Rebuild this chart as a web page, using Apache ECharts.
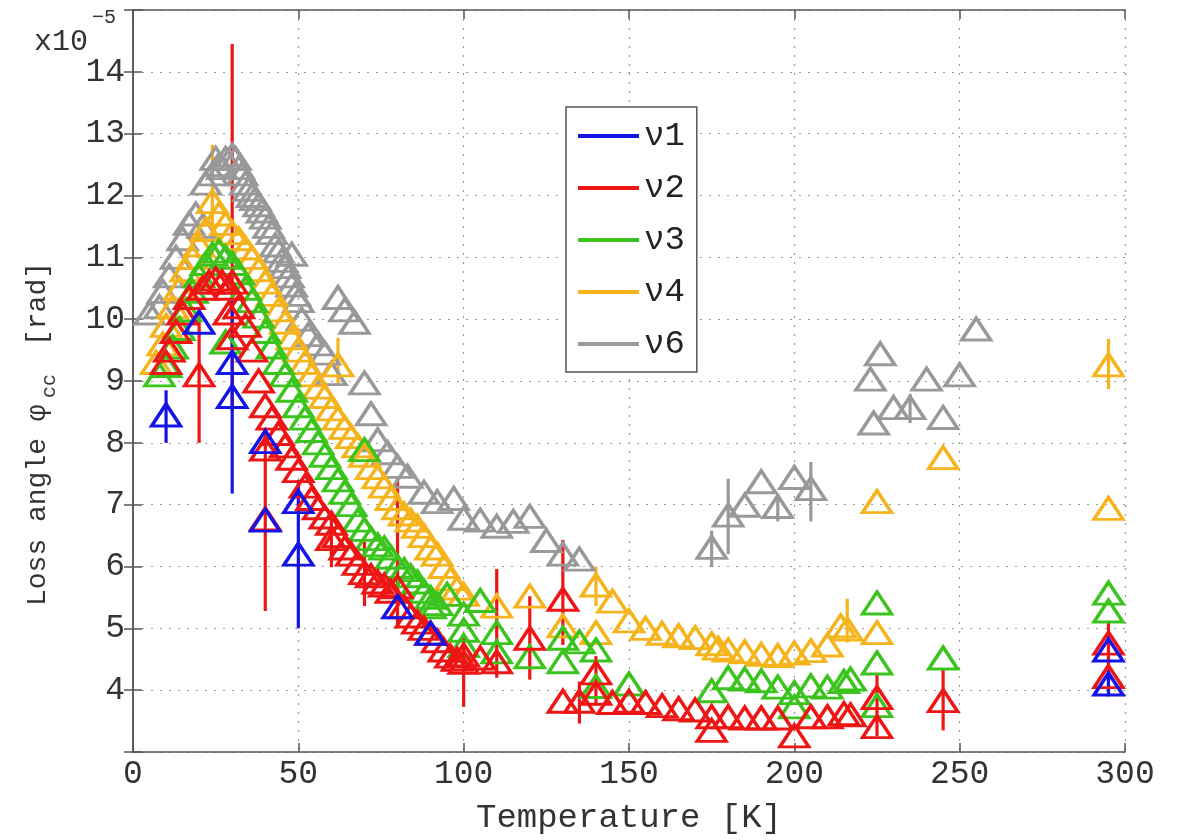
<!DOCTYPE html>
<html><head><meta charset="utf-8">
<script src="https://cdn.jsdelivr.net/npm/echarts@6/dist/echarts.min.js"></script>
<style>html,body{margin:0;padding:0;background:#fff}#c{width:1182px;height:840px}</style>
</head><body><div id="c"></div>
<script>
// ---- data: [Temperature K, loss angle x1e-5] ----
const seriesNames = ['ν1', 'ν2', 'ν3', 'ν4', 'ν6'];
const xTicks = [0, 50, 100, 150, 200, 250, 300];
const yTicks = [4, 5, 6, 7, 8, 9, 10, 11, 12, 13, 14];

const nu1 = [[10,8.45],[20,9.95],[30,9.3],[30,8.75],[40,8.02],[40,6.75],[50,7.05],[50,6.2],[80,5.35],[90,4.92],[295,4.65],[295,4.1]];
const nu1Err = [[10,8.0,8.85],[30,7.18,10.3],[50,5.0,7.4],[295,3.9,4.3]];

const nu2 = [[10,9.3],[11,9.5],[13,9.8],[15,10.1],[17,10.35],[20,9.1],[21,10.5],[23,10.6],[25,10.65],[27,10.6],[29,10.5],[30,10.6],[29,10.1],[30,9.7],[32,10.2],[34,9.9],[36,9.5],[38,9.0],[40,8.6],[40,7.9],[40,6.77],[42,8.4],[44,8.15],[46,7.95],[48,7.75],[50,7.55],[52,7.3],[54,7.1],[56,6.95],[58,6.8],[60,6.7],[60,6.45],[62,6.5],[64,6.3],[66,6.2],[68,6.05],[70,5.9],[72,5.85],[74,5.75],[76,5.7],[78,5.6],[80,5.67],[82,5.35],[84,5.2],[86,5.1],[88,5.0],[90,4.92],[92,4.8],[94,4.65],[96,4.55],[98,4.5],[100,4.57],[100,4.45],[105,4.52],[110,4.46],[120,4.84],[130,5.47],[130,3.82],[135,3.82],[140,4.28],[140,3.95],[145,3.8],[150,3.82],[155,3.8],[160,3.75],[165,3.7],[170,3.68],[175,3.57],[175,3.35],[180,3.57],[185,3.55],[190,3.55],[195,3.55],[200,3.26],[205,3.57],[210,3.57],[215,3.62],[217,3.6],[225,3.88],[225,3.41],[245,3.83],[295,4.76],[295,4.22]];
const nu2Err = [[20,8.0,10.2],[30,8.52,14.45],[40,5.28,8.25],[60,5.99,6.89],[70,5.36,6.4],[80,5.0,7.46],[100,3.73,4.9],[110,4.2,5.96],[120,4.17,5.52],[130,4.73,6.43],[135,3.46,4.14],[140,3.75,4.55],[225,3.26,4.25],[245,3.35,4.36],[295,4.0,5.09]];

const nu3 = [[8,9.1],[10,9.25],[12,9.55],[14,9.85],[16,10.15],[18,10.45],[20,10.7],[22,10.9],[24,11.05],[26,11.1],[28,11.0],[28,9.63],[30,10.9],[32,10.75],[34,10.5],[36,10.3],[38,10.05],[40,9.8],[42,9.55],[44,9.3],[46,9.1],[48,8.85],[50,8.6],[52,8.4],[54,8.2],[56,8.0],[58,7.8],[60,7.6],[62,7.4],[64,7.2],[66,7.0],[68,6.75],[70,6.6],[70,7.89],[72,6.45],[74,6.35],[76,6.3],[78,6.15],[80,6.0],[82,5.95],[84,5.85],[86,5.75],[88,5.6],[90,5.5],[90,5.35],[92,5.4],[95,5.55],[100,5.23],[100,4.97],[100,4.72],[105,5.45],[110,4.93],[110,4.62],[120,4.54],[130,4.84],[130,4.46],[135,4.78],[140,4.65],[140,4.06],[150,4.1],[175,3.99],[180,4.2],[185,4.18],[190,4.15],[195,4.05],[200,3.96],[200,3.73],[205,4.07],[210,4.05],[215,4.14],[217,4.18],[225,5.41],[225,4.44],[225,3.75],[245,4.52],[295,5.57],[295,5.28]];
const nu3Err = [];

const nu4 = [[7,9.3],[9,9.6],[10,9.9],[12,10.2],[14,10.5],[16,10.8],[18,11.0],[20,11.2],[22,11.45],[24,11.9],[26,11.7],[28,11.55],[30,11.4],[32,11.3],[34,11.15],[36,11.0],[38,10.8],[40,10.6],[42,10.4],[44,10.15],[46,9.95],[48,9.7],[50,9.5],[52,9.3],[54,9.1],[56,8.9],[58,8.75],[60,8.55],[62,9.26],[62,8.4],[64,8.25],[66,8.1],[68,7.95],[70,7.8],[72,7.6],[74,7.45],[76,7.3],[78,7.1],[80,6.95],[82,6.85],[84,6.75],[86,6.65],[88,6.5],[90,6.3],[92,6.2],[94,6.0],[96,5.8],[98,5.65],[100,5.55],[110,5.36],[120,5.52],[130,5.04],[140,5.7],[140,4.93],[145,5.44],[150,5.12],[155,5.0],[160,4.92],[165,4.88],[170,4.85],[175,4.75],[177,4.68],[180,4.65],[185,4.62],[190,4.58],[195,4.56],[200,4.6],[205,4.64],[210,4.73],[214,5.04],[216,4.99],[225,7.05],[225,4.93],[245,7.76],[295,9.26],[295,6.94]];
const nu4Err = [[24,11.0,12.82],[62,8.92,9.7],[140,5.36,6.0],[216,4.77,5.48],[295,8.87,9.68]];

const nu6 = [[5,10.1],[8,10.2],[9,10.45],[11,10.7],[13,11.0],[15,11.3],[17,11.55],[19,11.7],[21,11.5],[22,12.2],[24,12.35],[25,12.6],[26,12.5],[27,12.45],[28,12.6],[30,12.65],[31,12.6],[32,12.45],[33,12.35],[34,12.2],[35,12.1],[36,12.0],[37,11.95],[38,11.85],[39,11.75],[40,11.65],[41,11.5],[42,11.4],[43,11.2],[44,11.1],[45,10.95],[46,10.85],[47,10.7],[48,10.55],[48,11.05],[49,10.4],[50,10.3],[51,10.0],[53,9.75],[56,9.6],[58,9.45],[60,9.12],[62,10.35],[64,10.15],[67,9.95],[70,8.97],[72,8.47],[74,8.05],[77,7.84],[80,7.62],[83,7.46],[88,7.2],[92,7.05],[97,7.1],[100,6.78],[105,6.75],[110,6.65],[115,6.73],[120,6.81],[125,6.42],[130,6.2],[135,6.12],[175,6.31],[180,6.83],[185,6.99],[190,7.37],[195,6.97],[200,7.44],[205,7.26],[223,9.03],[224,8.32],[226,9.44],[230,8.57],[235,8.57],[240,9.03],[245,8.41],[250,9.1],[255,9.84]];
const nu6Err = [[175,5.99,6.58],[180,6.2,7.42],[195,6.73,7.18],[205,6.73,7.69],[235,8.32,8.79]];

const colors = {'ν1':'#1414e6','ν2':'#ee1515','ν3':'#3cc41e','ν4':'#f5b31c','ν6':'#999999'};
const dataByName = {'ν1':[nu1,nu1Err],'ν2':[nu2,nu2Err],'ν3':[nu3,nu3Err],'ν4':[nu4,nu4Err],'ν6':[nu6,nu6Err]};
const drawOrder = ['ν6','ν4','ν3','ν2','ν1'];

const FONT = 'Liberation Mono';
const series = [];
drawOrder.forEach(name => {
  const col = colors[name];
  const [pts, err] = dataByName[name];
  series.push({
    name, type:'custom', data: err, silent:true, animation:false, clip:true,
    encode:{x:0, y:[1,2]},
    renderItem:(params, api) => {
      const p1 = api.coord([api.value(0), api.value(1)]);
      const p2 = api.coord([api.value(0), api.value(2)]);
      return {type:'line', shape:{x1:p1[0],y1:p1[1],x2:p2[0],y2:p2[1]}, style:{stroke:col, lineWidth:3.2}};
    }
  });
  series.push({
    name, type:'scatter', data: pts, silent:true, animation:false,
    symbol:'triangle', symbolSize:[29,22],
    itemStyle:{color:'rgba(255,255,255,0)', borderColor:col, borderWidth:3.3, opacity:1}
  });
});

const axisCol = '#555';
const chart = echarts.init(document.getElementById('c'), null, {renderer:'canvas'});
chart.setOption({
  backgroundColor:'#fff',
  animation:false,
  grid:{left:133, right:57, top:10, bottom:71, show:false},
  legend:{
    orient:'vertical', left:566, top:107,
    data: seriesNames.map(n => ({name:n, icon:'rect', itemStyle:{color:colors[n], borderWidth:0}})),
    itemWidth:61, itemHeight:4, itemGap:18,
    padding:[12,12,11,12],
    backgroundColor:'#fff', borderColor:'#555', borderWidth:1.5,
    textStyle:{fontFamily:FONT, fontSize:34, color:'#222', lineHeight:32},
    selectedMode:false
  },
  xAxis:[{
    type:'value', min:xTicks[0], max:xTicks[xTicks.length-1], interval:50, position:'bottom',
    axisLine:{show:true, lineStyle:{color:axisCol, width:1.5}},
    axisTick:{show:true, inside:true, length:9, lineStyle:{color:axisCol, width:1.5}},
    axisLabel:{fontFamily:FONT, fontSize:33, color:'#333', margin:6},
    splitLine:{show:true, lineStyle:{type:[2,7], color:'#9a9a9a', width:1.2}},
    name:'Temperature [K]', nameLocation:'middle', nameGap:49,
    nameTextStyle:{fontFamily:FONT, fontSize:34, color:'#333'}
  },{
    type:'value', min:xTicks[0], max:xTicks[xTicks.length-1], interval:50, position:'top',
    axisLine:{show:true, lineStyle:{color:axisCol, width:1.5}},
    axisTick:{show:true, inside:true, length:9, lineStyle:{color:axisCol, width:1.5}},
    axisLabel:{show:false}, splitLine:{show:false}
  }],
  yAxis:[{
    type:'value', min:3, max:15, interval:1, position:'left',
    axisLine:{show:true, lineStyle:{color:axisCol, width:1.5}},
    axisTick:{show:true, inside:true, length:9, lineStyle:{color:axisCol, width:1.5}},
    axisLabel:{fontFamily:FONT, fontSize:33, color:'#333', margin:8,
      formatter: v => yTicks.indexOf(v) >= 0 ? String(v) : ''},
    splitLine:{show:true, lineStyle:{type:[2,7], color:'#9a9a9a', width:1.2}}
  },{
    type:'value', min:3, max:15, interval:1, position:'right',
    axisLine:{show:true, lineStyle:{color:axisCol, width:1.5}},
    axisTick:{show:true, inside:true, length:9, lineStyle:{color:axisCol, width:1.5}},
    axisLabel:{show:false}, splitLine:{show:false}
  }],
  graphic:[
    {type:'text', x:34, y:42, style:{text:'x10', font:'30px "Liberation Mono"', fill:'#333', textVerticalAlign:'middle', textAlign:'left'}},
    {type:'text', x:92, y:18, style:{text:'−5', font:'20px "Liberation Mono"', fill:'#333', textVerticalAlign:'middle', textAlign:'left'}},
    {type:'text', x:38, y:606, rotation:Math.PI/2, style:{text:'Loss angle φ', font:'28px "Liberation Mono"', fill:'#333', textVerticalAlign:'middle', textAlign:'left'}},
    {type:'text', x:50, y:398, rotation:Math.PI/2, style:{text:'cc', font:'20px "Liberation Mono"', fill:'#333', textVerticalAlign:'middle', textAlign:'left'}},
    {type:'text', x:38, y:346, rotation:Math.PI/2, style:{text:'[rad]', font:'28px "Liberation Mono"', fill:'#333', textVerticalAlign:'middle', textAlign:'left'}}
  ],
  series
});
</script></body></html>
